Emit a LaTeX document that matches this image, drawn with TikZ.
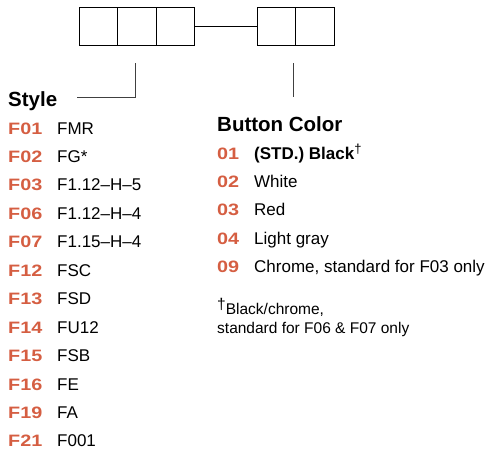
\documentclass[tikz,border=0pt]{standalone}
\usepackage{fontspec}
\setmainfont{Liberation Sans}
\newfontfamily\codefont[FakeStretch=1.2, UprightFont={* Bold}]{Liberation Sans}
\usetikzlibrary{positioning}

\definecolor{codered}{RGB}{213,94,66}

\tikzset{
    slot/.style={draw, line width=1.2pt, minimum width=38.5pt, minimum height=38.5pt,
        inner sep=0pt, outer sep=0pt},
    lead/.style={draw=black!75, line width=0.9pt},
    head/.style={anchor=base west, inner sep=0pt, font=\fontsize{20.5}{24}\bfseries\selectfont},
    code/.style={anchor=base west, inner sep=0pt, text=codered,
        font=\fontsize{16.5}{20}\codefont},
    desc/.style={anchor=base west, inner sep=0pt, font=\fontsize{17}{20}\selectfont},
    note/.style={anchor=base west, inner sep=0pt, align=left,
        font=\fontsize{15.5}{19}\selectfont}
}

\begin{document}
\begin{tikzpicture}[x=1pt, y=-1pt]
    \useasboundingbox (0,0) rectangle (491,455);

    % model number boxes
    \node[slot] (b1) at (98.5,26.5) {};
    \node[slot, right=0pt of b1] (b2) {};
    \node[slot, right=0pt of b2] (b3) {};
    \node[slot] (c1) at (276.5,26.5) {};
    \node[slot, right=0pt of c1] (c2) {};
    \draw[line width=1pt] (b3.east) -- (c1.west);

    % leaders
    \coordinate (sl) at (135,63);
    \coordinate (sr) at (77,97);
    \coordinate (cl) at (293,63);
    \coordinate (cr) at (293,97);
    \draw[lead] (sl) |- (sr);
    \draw[lead] (cl) -- (cr);

    \node[head] (style) at (8,106) {Style};
    \node[head] (button) at (217,131) {Button Color};

    \foreach \code/\model [count=\i from 0] in
        {F01/FMR, F02/FG*, F03/F1.12–H–5, F06/F1.12–H–4, F07/F1.15–H–4,
         F12/FSC, F13/FSD, F14/FU12, F15/FSB, F16/FE, F19/FA, F21/F001} {
        \node[code] (sc\i) at (8,{134+28.45*\i}) {\code};
        \node[desc] (sm\i) at (57,{134+28.45*\i}) {\model};
    }

    \foreach \code/\colour [count=\i from 0] in
        {01/{\bfseries(STD.) Black\raisebox{6pt}{\mdseries\fontsize{13}{15}\selectfont †}},
         02/White, 03/Red, 04/Light gray, 09/{Chrome, standard for F03 only}} {
        \node[code] (bc\i) at (217,{159+28.45*\i}) {\code};
        \node[desc] (bm\i) at (254,{159+28.45*\i}) {\colour};
    }

    \node[note] (foot) at (217,333)
        {\raisebox{5pt}{†}Black/chrome,\\standard for F06 \& F07 only};
\end{tikzpicture}
\end{document}
